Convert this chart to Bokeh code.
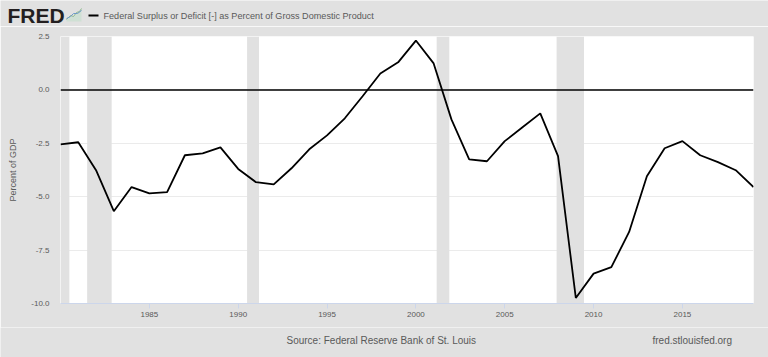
from bokeh.plotting import figure
from bokeh.layouts import column
from bokeh.models import (BoxAnnotation, Span, FixedTicker, PrintfTickFormatter, Range1d)
from bokeh.core.properties import value
from bokeh.embed import file_html
from bokeh.resources import INLINE

years = list(range(1980, 2020))
values = [-2.55, -2.45, -3.76, -5.68, -4.55, -4.84, -4.79, -3.06, -2.97, -2.69,
          -3.70, -4.32, -4.42, -3.67, -2.78, -2.13, -1.33, -0.30, 0.77, 1.29,
          2.31, 1.24, -1.38, -3.25, -3.34, -2.40, -1.75, -1.10, -3.10, -9.74,
          -8.60, -8.30, -6.65, -4.04, -2.73, -2.40, -3.06, -3.38, -3.76, -4.55]
recession_start = [1980.0, 1981.5, 1990.5, 2001.17, 2007.92]
recession_end = [1980.5, 1982.88, 1991.17, 2001.88, 2009.46]
x_ticks = [1985, 1990, 1995, 2000, 2005, 2010, 2015]
y_ticks = [-10.0, -7.5, -5.0, -2.5, 0.0, 2.5]
series_name = "Federal Surplus or Deficit [-] as Percent of Gross Domestic Product"
y_label = "Percent of GDP"
source_text = "Source: Federal Reserve Bank of St. Louis"
site_text = "fred.stlouisfed.org"

BG = "#e1e1e1"
TXT = "#595959"
FONT = "Liberation Sans"
W = 768
HEAD_H = 26
FOOT_H = 30
MAIN_H = 357 - HEAD_H - FOOT_H


def no_align(fig):
    if "frame_align" in fig.properties():
        fig.frame_align = False


def blank(h):
    f = figure(width=W, height=h, output_backend="svg", toolbar_location=None,
               x_range=Range1d(0, W), y_range=Range1d(h, 0),
               x_axis_location=None, y_axis_location=None,
               min_border=0, min_border_left=0, min_border_right=0,
               min_border_top=0, min_border_bottom=0)
    f.background_fill_color = BG
    f.border_fill_color = BG
    f.outline_line_color = None
    f.grid.visible = False
    no_align(f)
    return f


# ---- header ----
h = blank(HEAD_H)
h.text(x=[7], y=[15], text=["FRED"], text_font=value(FONT), text_font_size="21px",
       text_font_style="bold", text_color="#231f20", text_baseline="middle")
h.patch([66, 70, 73, 76, 79, 81, 81, 66], [19, 15, 16, 12, 11, 8, 21, 21],
        fill_color="#cfe0d4", line_color=None)
h.line([66, 70, 73, 76, 79, 81], [19, 15, 16, 12, 11, 8], line_color="#8fb98f", line_width=1)
h.line([66, 70, 73, 77, 81], [18, 16, 13, 13, 10], line_color="#6f9ac7", line_width=1)
h.line([88, 98], [15, 15], line_color="black", line_width=2)
h.text(x=[103], y=[15], text=[series_name], text_font=value(FONT), text_font_size="9.1px",
       text_color=TXT, text_baseline="middle")

# ---- main chart ----
p = figure(width=W, height=MAIN_H, output_backend="svg", toolbar_location=None,
           x_range=Range1d(1980, 2019), y_range=Range1d(-10, 2.5),
           min_border_left=60, min_border_right=15, min_border_top=10, min_border_bottom=24)
p.background_fill_color = "white"
p.border_fill_color = BG
p.outline_line_color = None
no_align(p)

for s, e in zip(recession_start, recession_end):
    p.add_layout(BoxAnnotation(left=s, right=e, fill_color=BG, fill_alpha=1.0,
                               line_color=None, level="underlay"))

p.xgrid.visible = False
p.ygrid.ticker = FixedTicker(ticks=y_ticks)
p.ygrid.grid_line_color = "#ebebeb"
p.ygrid.grid_line_width = 1

p.xaxis.ticker = FixedTicker(ticks=x_ticks)
p.xaxis.axis_line_color = "#ccd6eb"
p.xaxis.major_tick_line_color = "#ccd6eb"
p.xaxis.major_tick_out = 5
p.xaxis.major_tick_in = 0
p.xaxis.minor_tick_line_color = None
p.xaxis.major_label_text_font = FONT
p.xaxis.major_label_text_font_size = "8px"
p.xaxis.major_label_text_color = TXT
p.xaxis.major_label_standoff = 3

p.yaxis.ticker = FixedTicker(ticks=y_ticks)
p.yaxis.formatter = PrintfTickFormatter(format="%.1f")
p.yaxis.axis_line_color = None
p.yaxis.major_tick_line_color = None
p.yaxis.major_tick_in = 0
p.yaxis.major_tick_out = 0
p.yaxis.minor_tick_line_color = None
p.yaxis.major_label_text_font = FONT
p.yaxis.major_label_text_font_size = "8px"
p.yaxis.major_label_text_color = TXT
p.yaxis.major_label_standoff = 11
p.yaxis.axis_label = y_label
p.yaxis.axis_label_text_font = FONT
p.yaxis.axis_label_text_font_size = "9px"
p.yaxis.axis_label_text_font_style = "normal"
p.yaxis.axis_label_text_color = TXT
p.yaxis.axis_label_standoff = 10

p.add_layout(Span(location=0, dimension="width", line_color="black", line_width=1.5))
p.line(years, values, line_color="black", line_width=1.8)

# ---- footer ----
f = blank(FOOT_H)
f.text(x=[286], y=[13], text=[source_text], text_font=value(FONT), text_font_size="10px",
       text_color=TXT, text_baseline="middle")
f.text(x=[652], y=[13], text=[site_text], text_font=value(FONT), text_font_size="10px",
       text_color=TXT, text_baseline="middle")

layout = column(h, p, f, spacing=0)
open("out.html", "w").write(file_html(layout, INLINE))
